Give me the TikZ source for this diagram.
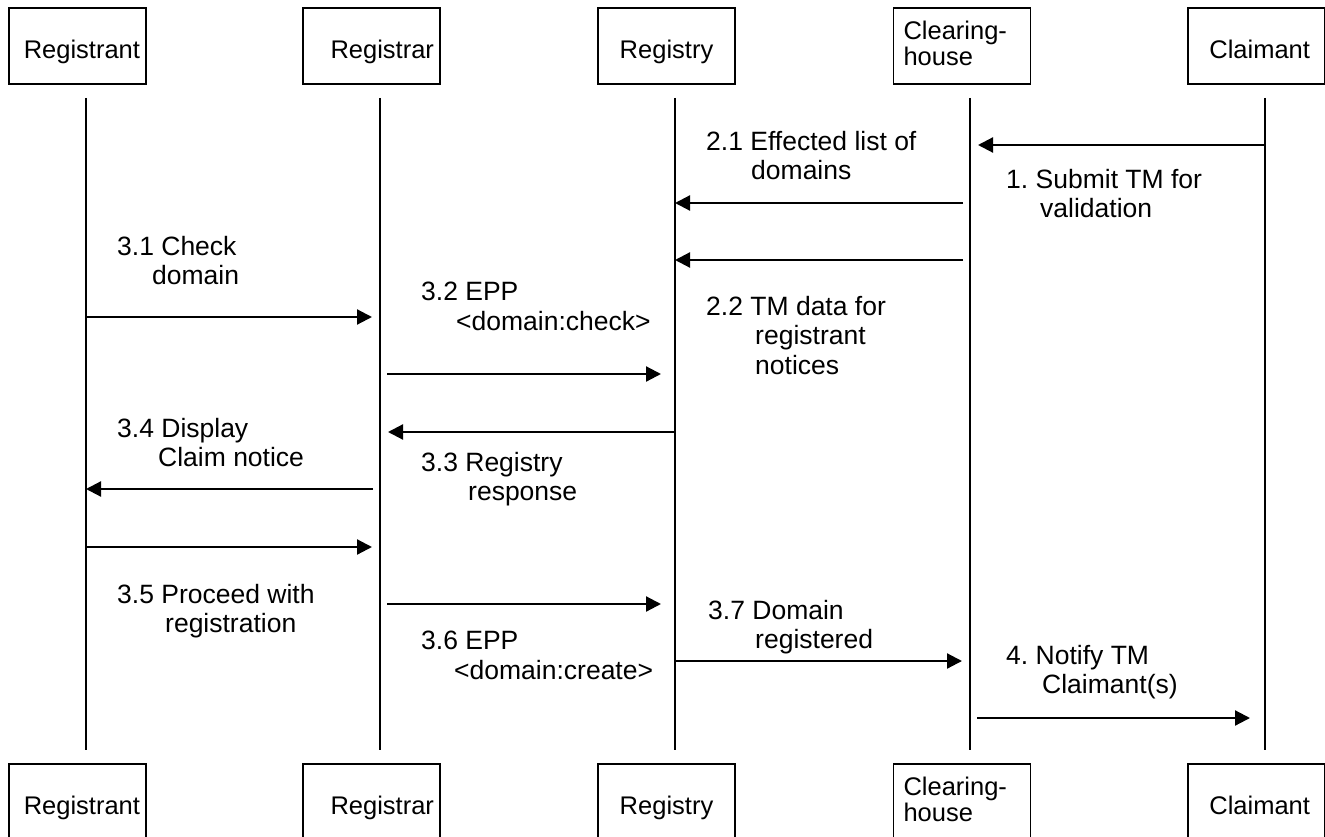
\documentclass[tikz,border=0pt]{standalone}
\usepackage{fontspec}
\setmainfont{Liberation Sans}
\usetikzlibrary{arrows.meta}
\frenchspacing
\tikzset{
  actor/.style={draw,line width=1.6pt,minimum width=137pt,minimum height=76pt,inner sep=0pt,align=center},
  oneline/.style={text height=25pt,text depth=0pt},
  lifeline/.style={line width=1.6pt},
  msg/.style={line width=2.2pt,-{Triangle[length=15pt,width=15pt]}},
  lbl/.style={anchor=north west,inner sep=0pt,align=left,font=\fontsize{26.5}{29.5}\selectfont}
}
\begin{document}
\begin{tikzpicture}[x=1pt,y=-1pt,font=\fontsize{25.5}{26.5}\selectfont]
\useasboundingbox (0,0) rectangle (1325,837);
\clip (0,0) rectangle (1325,837);
% actors, top and bottom
\node[actor,oneline,text width=125pt,align=right] (rantT) at (77.5,46) {Registrant};
\node[actor,oneline,text width=125pt,align=right] (rarT) at (371.5,46) {Registrar};
\node[actor,oneline] (ryT) at (666.5,46) {Registry};
\node[actor,text width=117pt,align=left] (chT) at (962,46) {Clearing-\\house\vspace*{5pt}};
\node[actor,oneline,text width=107pt,align=right] (clT) at (1256.5,46) {Claimant};
\node[actor,oneline,text width=125pt,align=right] (rantB) at (77.5,802) {Registrant};
\node[actor,oneline,text width=125pt,align=right] (rarB) at (371.5,802) {Registrar};
\node[actor,oneline] (ryB) at (666.5,802) {Registry};
\node[actor,text width=117pt,align=left] (chB) at (962,802) {Clearing-\\house\vspace*{5pt}};
\node[actor,oneline,text width=107pt,align=right] (clB) at (1256.5,802) {Claimant};
% lifelines
\coordinate (rant) at (86,98);  \coordinate (rant') at (86,750);
\coordinate (rar) at (380,98);  \coordinate (rar') at (380,750);
\coordinate (ry) at (675,98);   \coordinate (ry') at (675,750);
\coordinate (ch) at (970,98);   \coordinate (ch') at (970,750);
\coordinate (cl) at (1265,98);  \coordinate (cl') at (1265,750);
\draw[lifeline] (rant) -- (rant');
\draw[lifeline] (rar) -- (rar');
\draw[lifeline] (ry) -- (ry');
\draw[lifeline] (ch) -- (ch');
\draw[lifeline] (cl) -- (cl');
% messages
\draw[msg] (cl |- 0,145) -- ([xshift=8pt]ch |- 0,145);
\draw[msg] ([xshift=-7pt]ch |- 0,203) -- (ry |- 0,203);
\draw[msg] ([xshift=-7pt]ch |- 0,260) -- (ry |- 0,260);
\draw[msg] (rant |- 0,317) -- ([xshift=-8pt]rar |- 0,317);
\draw[msg] ([xshift=7pt]rar |- 0,374) -- ([xshift=-14pt]ry |- 0,374);
\draw[msg] (ry |- 0,432) -- ([xshift=8pt]rar |- 0,432);
\draw[msg] ([xshift=-7pt]rar |- 0,489) -- (rant |- 0,489);
\draw[msg] (rant |- 0,547) -- ([xshift=-8pt]rar |- 0,547);
\draw[msg] ([xshift=7pt]rar |- 0,604) -- ([xshift=-14pt]ry |- 0,604);
\draw[msg] (ry |- 0,661) -- ([xshift=-8pt]ch |- 0,661);
\draw[msg] ([xshift=7pt]ch |- 0,718) -- ([xshift=-15pt]cl |- 0,718);
% labels
\node[lbl] (m1) at (1006,169) {1. Submit TM for\\\hspace*{34pt}validation};
\node[lbl] (m21) at (706,131) {2.1 Effected list of\\\hspace*{45pt}domains};
\node[lbl] (m22) at (706,296) {2.2 TM data for\\\hspace*{49pt}registrant\\\hspace*{49pt}notices};
\node[lbl] (m31) at (117,236) {3.1 Check\\\hspace*{35pt}domain};
\node[lbl] (m32) at (421,282) {3.2 EPP\\\hspace*{35pt}<domain:check>};
\node[lbl] (m33) at (421,452) {3.3 Registry\\\hspace*{47pt}response};
\node[lbl] (m34) at (117,418) {3.4 Display\\\hspace*{41pt}Claim notice};
\node[lbl] (m35) at (117,584) {3.5 Proceed with\\\hspace*{48pt}registration};
\node[lbl] (m36) at (421,631) {3.6 EPP\\\hspace*{33pt}<domain:create>};
\node[lbl] (m37) at (708,600) {3.7 Domain\\\hspace*{47pt}registered};
\node[lbl] (m4) at (1006,645) {4. Notify TM\\\hspace*{36pt}Claimant(s)};
\end{tikzpicture}
\end{document}
